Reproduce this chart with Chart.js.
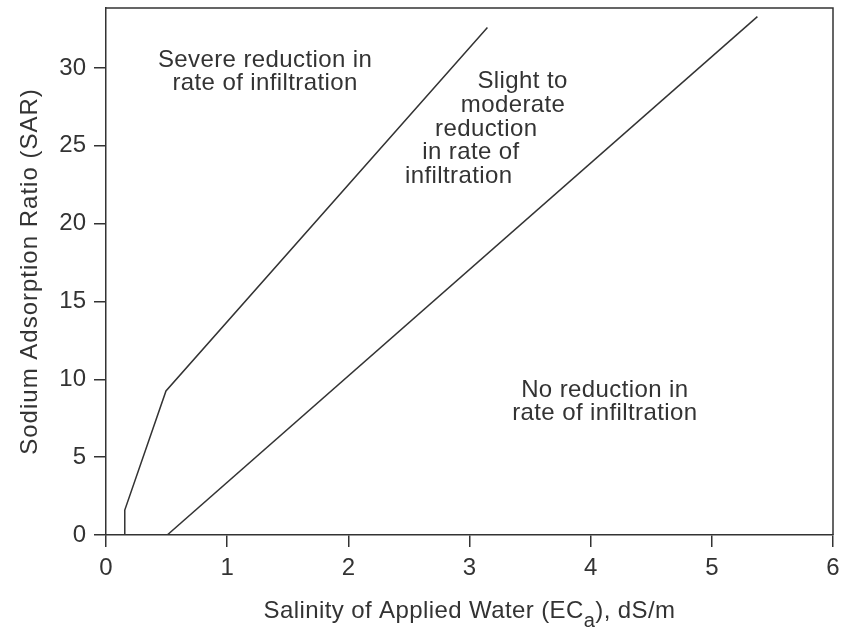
<!DOCTYPE html>
<html>
<head>
<meta charset="utf-8">
<title>SAR vs ECa</title>
<script src="https://cdn.jsdelivr.net/npm/chart.js@4.4.1/dist/chart.umd.min.js"></script>
<style>
    html, body { margin: 0; padding: 0; background: #fff; }
    #wrap { width: 841px; height: 629px; position: relative; }
</style>
</head>
<body>
<div id="wrap"><canvas id="sarChart"></canvas></div>
<script>
// ----------------------------------------------------
// DATA
// ----------------------------------------------------
const xTicks = [0, 1, 2, 3, 4, 5, 6];
const yTicks = [0, 5, 10, 15, 20, 25, 30];

// boundary: severe / slight-to-moderate
const severeX = [0.155, 0.155, 0.495, 3.148];
const severeY = [0, 1.6, 9.25, 32.6];

// boundary: slight-to-moderate / none
const noneX = [0.505, 5.376];
const noneY = [0, 33.3];

const severeText = ["Severe reduction in", "rate of infiltration"];
const slightText = ["Slight to", "moderate", "reduction", "in rate of", "infiltration"];
const noneText = ["No reduction in", "rate of infiltration"];

const yTitle = "Sodium Adsorption Ratio (SAR)";
const xTitleParts = ["Salinity of Applied Water (EC", "a", "), dS/m"];

// ----------------------------------------------------
// STYLE
// ----------------------------------------------------
const INK = "#333";
const FONT = "'Liberation Sans', Arial, Helvetica, sans-serif";

function toPoints(xs, ys) {
    return xs.map((x, i) => ({ x, y: ys[i] }));
}

// ----------------------------------------------------
// PLUGIN: frame, annotations, axis titles
// ----------------------------------------------------
const textPlugin = {
    id: "sarText",
    afterDraw(chart) {
        const { ctx, chartArea, scales } = chart;
        const sx = scales.x, sy = scales.y;
        const hasSpacing = "letterSpacing" in ctx;
        ctx.save();

        // frame (top + right)
        ctx.strokeStyle = INK;
        ctx.lineWidth = 1.5;
        ctx.beginPath();
        ctx.moveTo(chartArea.left, chartArea.top);
        ctx.lineTo(chartArea.right, chartArea.top);
        ctx.lineTo(chartArea.right, chartArea.bottom);
        ctx.stroke();

        ctx.fillStyle = INK;
        ctx.font = `24px ${FONT}`;
        if (hasSpacing) ctx.letterSpacing = "0.4px";
        ctx.textBaseline = "alphabetic";

        // severe (centered)
        ctx.textAlign = "center";
        let bx = sx.getPixelForValue(1.313);
        let by = sy.getPixelForValue(30.06);
        severeText.forEach((t, i) => ctx.fillText(t, bx, by + i * 23.2));

        // no reduction (centered)
        bx = sx.getPixelForValue(4.117);
        by = sy.getPixelForValue(8.89);
        noneText.forEach((t, i) => ctx.fillText(t, bx, by + i * 23.3));

        // slight to moderate (staggered, left aligned)
        ctx.textAlign = "left";
        const slightLeft = [3.065, 2.928, 2.716, 2.61, 2.467];
        by = sy.getPixelForValue(28.71);
        slightText.forEach((t, i) => ctx.fillText(t, sx.getPixelForValue(slightLeft[i]), by + i * 23.75));

        // y title
        ctx.save();
        if (hasSpacing) ctx.letterSpacing = "1px";
        ctx.translate(36.7, (chartArea.top + chartArea.bottom) / 2);
        ctx.rotate(-Math.PI / 2);
        ctx.textAlign = "center";
        ctx.fillText(yTitle, 0, 0);
        ctx.restore();

        // x title with subscript
        ctx.textAlign = "left";
        const mainFont = `24px ${FONT}`;
        const subFont = `20px ${FONT}`;
        ctx.font = mainFont;
        const w0 = ctx.measureText(xTitleParts[0]).width;
        const w2 = ctx.measureText(xTitleParts[2]).width;
        ctx.font = subFont;
        const w1 = ctx.measureText(xTitleParts[1]).width;
        const cx = (chartArea.left + chartArea.right) / 2;
        let x = cx - (w0 + w1 + w2) / 2;
        const base = 618.3;
        ctx.font = mainFont;
        ctx.fillText(xTitleParts[0], x, base);
        x += w0;
        ctx.font = subFont;
        ctx.fillText(xTitleParts[1], x, base + 9);
        x += w1;
        ctx.font = mainFont;
        ctx.fillText(xTitleParts[2], x, base);

        ctx.restore();
    }
};

// ----------------------------------------------------
// CHART
// ----------------------------------------------------
function buildChart() {
    const ctx = document.getElementById("sarChart");

    const lineStyle = {
        showLine: true,
        pointRadius: 0,
        borderColor: INK,
        borderWidth: 1.5,
        fill: false,
        tension: 0
    };

    new Chart(ctx, {
        type: "scatter",
        data: {
            datasets: [
                { data: toPoints(severeX, severeY), ...lineStyle },
                { data: toPoints(noneX, noneY), ...lineStyle }
            ]
        },
        options: {
            responsive: true,
            maintainAspectRatio: false,
            animation: false,
            events: [],
            layout: { padding: { top: 8, right: 8, left: 0, bottom: 0 } },
            plugins: { legend: { display: false }, tooltip: { enabled: false } },
            scales: {
                x: {
                    type: "linear",
                    min: 0,
                    max: 6,
                    afterBuildTicks: s => { s.ticks = xTicks.map(v => ({ value: v })); },
                    afterFit: s => {
                        s.height = 94;
                        s.paddingLeft = 0; s.paddingRight = 0;
                    },
                    grid: { drawOnChartArea: false, drawTicks: true, tickLength: 12, color: INK, lineWidth: 1.5 },
                    border: { display: true, color: INK, width: 1.5 },
                    ticks: { color: INK, padding: 7, font: { family: FONT, size: 24 }, maxRotation: 0 }
                },
                y: {
                    type: "linear",
                    min: 0,
                    max: 33.85,
                    afterBuildTicks: s => { s.ticks = yTicks.map(v => ({ value: v })); },
                    afterFit: s => {
                        s.width = 106;
                        s.paddingTop = 0; s.paddingBottom = 0;
                    },
                    grid: { drawOnChartArea: false, drawTicks: true, tickLength: 12, color: INK, lineWidth: 1.5 },
                    border: { display: true, color: INK, width: 1.5 },
                    ticks: { color: INK, padding: 8, font: { family: FONT, size: 24 } }
                }
            }
        },
        plugins: [textPlugin]
    });
}

window.addEventListener("load", buildChart);
</script>
</body>
</html>
